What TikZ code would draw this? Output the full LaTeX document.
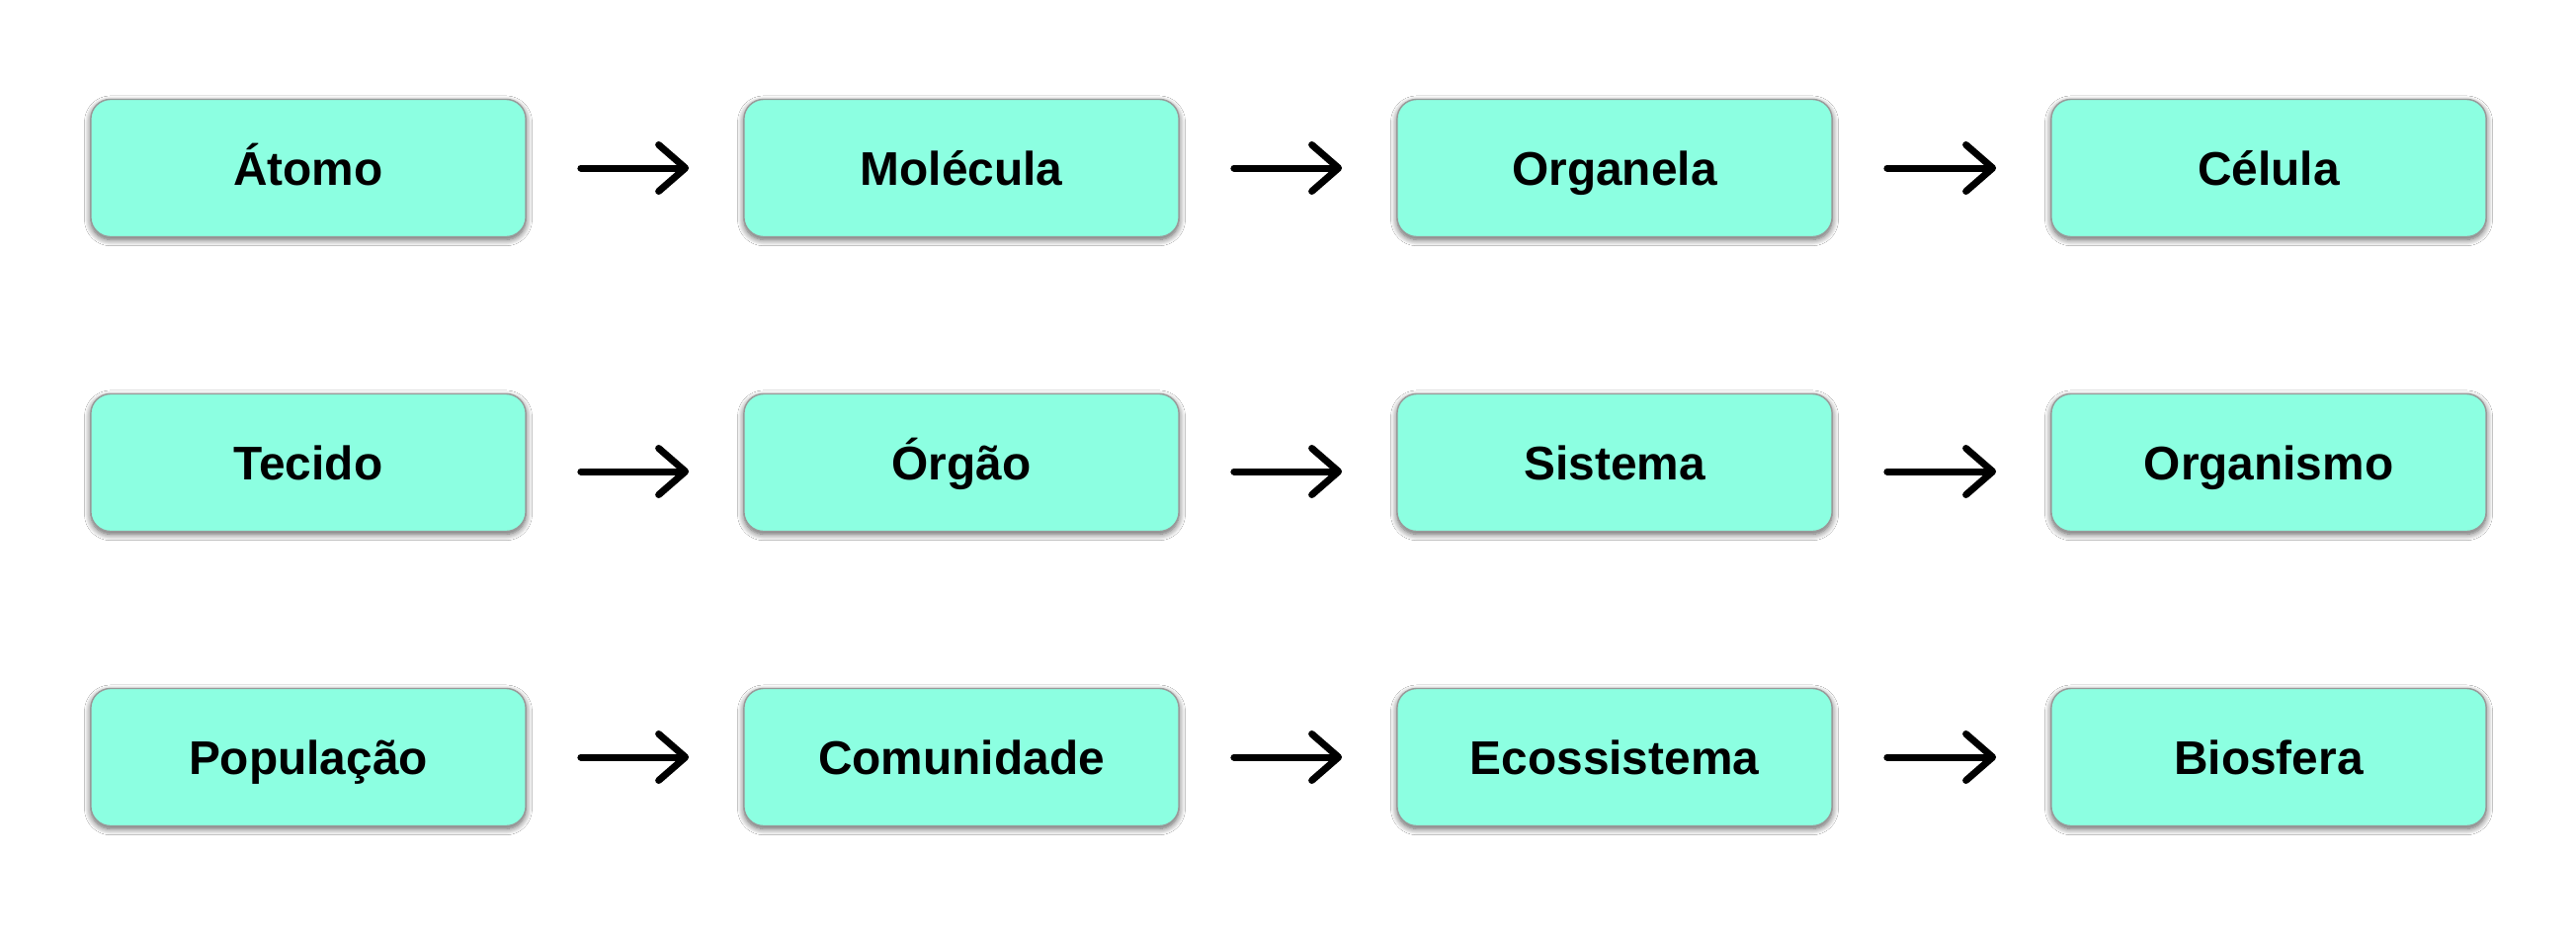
\documentclass[tikz,border=0pt]{standalone}
\usepackage{fontspec}
\setmainfont{Liberation Sans}
\usetikzlibrary{arrows.meta,shadows.blur}
\definecolor{boxfill}{HTML}{8CFFE1}
\tikzset{
  lvbox/.style={rounded corners=0.2cm, fill=boxfill, draw=black!40, line width=0.4pt,
    minimum width=4.40cm, minimum height=1.39cm, inner sep=0pt,
    text height=0.345cm, text depth=0pt,
    font=\bfseries\fontsize{13.6}{16}\selectfont, text=black,
    blur shadow={shadow xshift=0pt, shadow yshift=-0.8pt, shadow blur radius=1.8pt, shadow opacity=65, shadow blur steps=8}},
  lvarrow/.style={line width=0.07cm, line cap=round, draw=black,
    -{Straight Barb[length=0.27cm, width=0.47cm, line cap=round, line join=round]},
    shorten <=0.55cm, shorten >=0.55cm}
}
\begin{document}
\begin{tikzpicture}[x=0.01cm,y=-0.01cm]
\useasboundingbox (0,0) rectangle (2607,954);
\fill[white] (0,0) rectangle (2607,954);
% row 1
\node[lvbox] (a1) at (312,170) {Átomo};
\node[lvbox] (a2) at (973,170) {Molécula};
\node[lvbox] (a3) at (1634,170) {Organela};
\node[lvbox] (a4) at (2296,170) {Célula};
% row 2
\node[lvbox] (b1) at (312,468) {Tecido};
\node[lvbox] (b2) at (973,468) {Órgão};
\node[lvbox] (b3) at (1634,468) {Sistema};
\node[lvbox] (b4) at (2296,468) {Organismo};
% row 3
\node[lvbox] (c1) at (312,766) {População};
\node[lvbox] (c2) at (973,766) {Comunidade};
\node[lvbox] (c3) at (1634,766) {Ecossistema};
\node[lvbox] (c4) at (2296,766) {Biosfera};
% arrows
\draw[lvarrow] (a1.east) -- (a2.west);
\draw[lvarrow] (a2.east) -- (a3.west);
\draw[lvarrow] (a3.east) -- (a4.west);
\draw[lvarrow] ([yshift=-0.09cm]b1.east) -- ([yshift=-0.09cm]b2.west);
\draw[lvarrow] ([yshift=-0.09cm]b2.east) -- ([yshift=-0.09cm]b3.west);
\draw[lvarrow] ([yshift=-0.09cm]b3.east) -- ([yshift=-0.09cm]b4.west);
\draw[lvarrow] (c1.east) -- (c2.west);
\draw[lvarrow] (c2.east) -- (c3.west);
\draw[lvarrow] (c3.east) -- (c4.west);
\end{tikzpicture}
\end{document}
